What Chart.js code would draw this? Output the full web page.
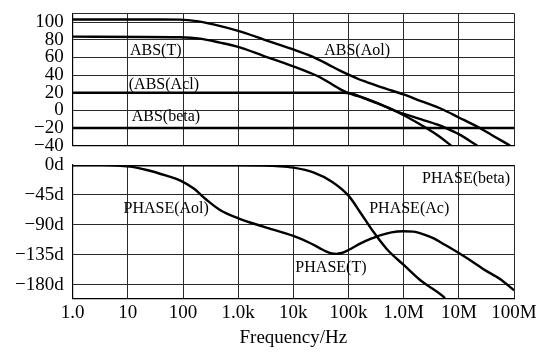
<!DOCTYPE html>
<html>
<head>
<meta charset="utf-8">
<script src="https://cdn.jsdelivr.net/npm/chart.js@4.4.1/dist/chart.umd.min.js"></script>
<style>
  html, body { margin: 0; padding: 0; background: #fff; }
  #wrap { position: relative; width: 552px; height: 355px; }
  #mag { position: absolute; left: 0; top: 0; }
  #phase { position: absolute; left: 0; top: 155px; }
</style>
</head>
<body>
<div id="wrap">
  <canvas id="mag" width="552" height="155"></canvas>
  <canvas id="phase" width="552" height="200"></canvas>
</div>
<script>
// Frequency axis (Hz)
const freqTicks  = [1, 10, 100, 1e3, 1e4, 1e5, 1e6, 1e7, 1e8];
const freqLabels = ['1.0', '10', '100', '1.0k', '10k', '100k', '1.0M', '10M', '100M'];

// Magnitude axis (dB)
const magTicks      = [-40, -20, 0, 20, 40, 60, 80, 100, 110];
const magTickLabels = ['\u221240', '\u221220', '0', '20', '40', '60', '80', '100', ''];

// Phase axis (degrees)
const phaseTicks      = [-200, -180, -135, -90, -45, 0];
const phaseTickLabels = ['', '\u2212180d', '\u2212135d', '\u221290d', '\u221245d', '0d'];

// ABS(Aol): open-loop gain
const aolFreq = [1, 40, 88, 177, 354, 1e3, 2860, 1e4, 2e4, 4e4, 7e4, 1e5, 1.5e5, 2.14e5, 4e5,
                 1e6, 2e6, 5e6, 1e7, 2e7, 4e7, 8.5e7];
const aolMag  = [103, 103, 102.8, 101.1, 97.4, 90, 80.5, 69, 62, 53, 45, 40.5, 35.5, 32, 26,
                 18, 10.8, 1.2, -8.1, -17.4, -28.2, -40];

// ABS(T): loop gain
const tFreq = [1, 88, 203, 468, 1e3, 2860, 1e4, 2e4, 3.04e4, 5e4, 7e4, 1e5, 1.5e5, 2.14e5, 4e5,
               7.5e5, 1.5e6, 2.62e6, 4.5e6, 7.25e6];
const tMag  = [83.5, 82.8, 81.3, 76.8, 71.9, 61.8, 49.8, 42.5, 37.5, 29.5, 24, 19.4, 16, 12.4, 6,
               -1.6, -11.5, -20.4, -30, -40];

// ABS(Acl): closed-loop gain
const aclFreq = [1, 8e4, 1.1e5, 1.5e5, 2.14e5, 4e5, 7.5e5, 1.5e6, 2.27e6, 4e6, 6e6, 1e7, 2.15e7];
const aclMag  = [20, 20, 19.3, 16.5, 13, 6.3, -1.2, -7.5, -11, -16, -20.4, -27, -40];

// ABS(beta): feedback factor
const betaFreq = [1, 1e8];
const betaMag  = [-20, -20];

// PHASE(Aol) / PHASE(T)
const loopPhaseFreq = [1, 3.6, 11, 22, 50, 88, 154, 269, 468, 1e3, 2860, 1e4, 2e4, 3.04e4, 4e4, 5e4, 6e4,
                       7.5e4, 1e5, 1.62e5, 2.5e5, 3.72e5, 6e5, 9.86e5, 1.5e6, 2.3e6, 3.5e6, 5.25e6,
                       1.05e7, 2e7, 2.75e7, 5.58e7, 1e8];
const loopPhaseDeg  = [0, 0, -2.5, -7.5, -16, -23, -35, -52.5, -67.5, -80, -92.5, -106.5, -117, -125, -130, -132.8, -133.3,
                       -132, -127.5, -118, -111, -105.5, -101, -99.5, -100, -104, -110, -118.4,
                       -133.2, -148, -156, -171, -188];

// PHASE(Ac): closed-loop phase
const acPhaseFreq = [1, 1e3, 5730, 1e4, 2.3e4, 5e4, 1e5, 1.66e5, 2.7e5, 4.93e5, 1e6, 1.98e6, 5.25e6, 5.6e6];
const acPhaseDeg  = [0, -0.5, -2, -4, -11, -25, -46, -72, -98, -126, -150, -172.6, -197.5, -200];

// PHASE(beta)
const betaPhaseFreq = [1, 1e8];
const betaPhaseDeg  = [0, 0];

// Curve names written inside the plots
const magNames     = ['ABS(T)', '(ABS(Acl)', 'ABS(beta)', 'ABS(Aol)'];
const magNameFreq  = [32, 45, 49, 1.43e5];
const magNameDb    = [68, 28.5, -7.6, 68];
const phaseNames    = ['PHASE(Aol)', 'PHASE(beta)', 'PHASE(Ac)', 'PHASE(T)'];
const phaseNameFreq = [49.5, 1.35e7, 1.26e6, 4.8e4];
const phaseNameDeg  = [-66, -21, -66, -154.5];

const SERIF = '"Liberation Serif", "Times New Roman", serif';
const LEFT_AXIS = 72.7;

const pts = (f, v) => f.map((x, i) => ({ x, y: v[i] }));
const curve = (f, v) => ({
  data: pts(f, v),
  borderColor: '#000',
  borderWidth: 2.4,
  pointRadius: 0,
  cubicInterpolationMode: 'monotone',
  fill: false
});

const curveNames = {
  id: 'curveNames',
  afterDatasetsDraw(chart, args, opts) {
    const { ctx, scales: { x, y } } = chart;
    ctx.save();
    ctx.font = '16px ' + SERIF;
    ctx.fillStyle = '#000';
    ctx.textAlign = 'center';
    ctx.textBaseline = 'middle';
    opts.text.forEach((t, i) => {
      ctx.fillText(t, x.getPixelForValue(opts.freq[i]), y.getPixelForValue(opts.value[i]));
    });
    ctx.restore();
  }
};

// keep tick labels from pushing the plot area around
const noOverflow = s => {
  s.paddingTop = 0; s.paddingBottom = 0; s.paddingLeft = 0; s.paddingRight = 0;
};

function freqAxis(withLabels) {
  return {
    type: 'logarithmic',
    min: 1,
    max: 1e8,
    afterBuildTicks: s => { s.ticks = freqTicks.map(v => ({ value: v })); },
    afterFit: s => { s.height = withLabels ? 56.7 : 0; noOverflow(s); },
    grid: { color: '#2a2a2a', lineWidth: 1, drawTicks: false },
    border: { color: '#000', width: 1.2 },
    ticks: {
      display: withLabels,
      autoSkip: false,
      maxRotation: 0,
      padding: 3,
      color: '#000',
      font: { family: SERIF, size: 19 },
      callback: (v, i) => freqLabels[i]
    },
    title: {
      display: withLabels,
      text: 'Frequency/Hz',
      color: '#000',
      font: { family: SERIF, size: 19 },
      padding: { top: 0, bottom: 6 }
    }
  };
}

function valueAxis(min, max, ticks, labels) {
  return {
    min, max,
    afterBuildTicks: s => { s.ticks = ticks.map(v => ({ value: v })); },
    afterFit: s => { s.width = LEFT_AXIS; noOverflow(s); },
    grid: { color: '#2a2a2a', lineWidth: 1, drawTicks: false },
    border: { color: '#000', width: 1.2 },
    ticks: {
      autoSkip: false,
      padding: 9,
      color: '#000',
      font: { family: SERIF, size: 19 },
      callback: v => labels[ticks.indexOf(v)]
    }
  };
}

const common = {
  responsive: false,
  animation: false,
  devicePixelRatio: 1,
  events: []
};

new Chart(document.getElementById('mag'), {
  type: 'line',
  data: {
    datasets: [
      curve(aolFreq, aolMag),
      curve(tFreq, tMag),
      curve(aclFreq, aclMag),
      curve(betaFreq, betaMag)
    ]
  },
  options: {
    ...common,
    layout: { padding: { top: 13.3, right: 38, bottom: 9.4, left: 0 } },
    scales: {
      x: freqAxis(false),
      y: valueAxis(-40, 110, magTicks, magTickLabels)
    },
    plugins: {
      legend: { display: false },
      tooltip: { enabled: false },
      curveNames: { text: magNames, freq: magNameFreq, value: magNameDb }
    }
  },
  plugins: [curveNames]
});

new Chart(document.getElementById('phase'), {
  type: 'line',
  data: {
    datasets: [
      curve(betaPhaseFreq, betaPhaseDeg),
      curve(loopPhaseFreq, loopPhaseDeg),
      curve(acPhaseFreq, acPhaseDeg)
    ]
  },
  options: {
    ...common,
    layout: { padding: { top: 10, right: 38, bottom: 0, left: 0 } },
    scales: {
      x: freqAxis(true),
      y: valueAxis(-200, 0, phaseTicks, phaseTickLabels)
    },
    plugins: {
      legend: { display: false },
      tooltip: { enabled: false },
      curveNames: { text: phaseNames, freq: phaseNameFreq, value: phaseNameDeg }
    }
  },
  plugins: [curveNames]
});
</script>
</body>
</html>
